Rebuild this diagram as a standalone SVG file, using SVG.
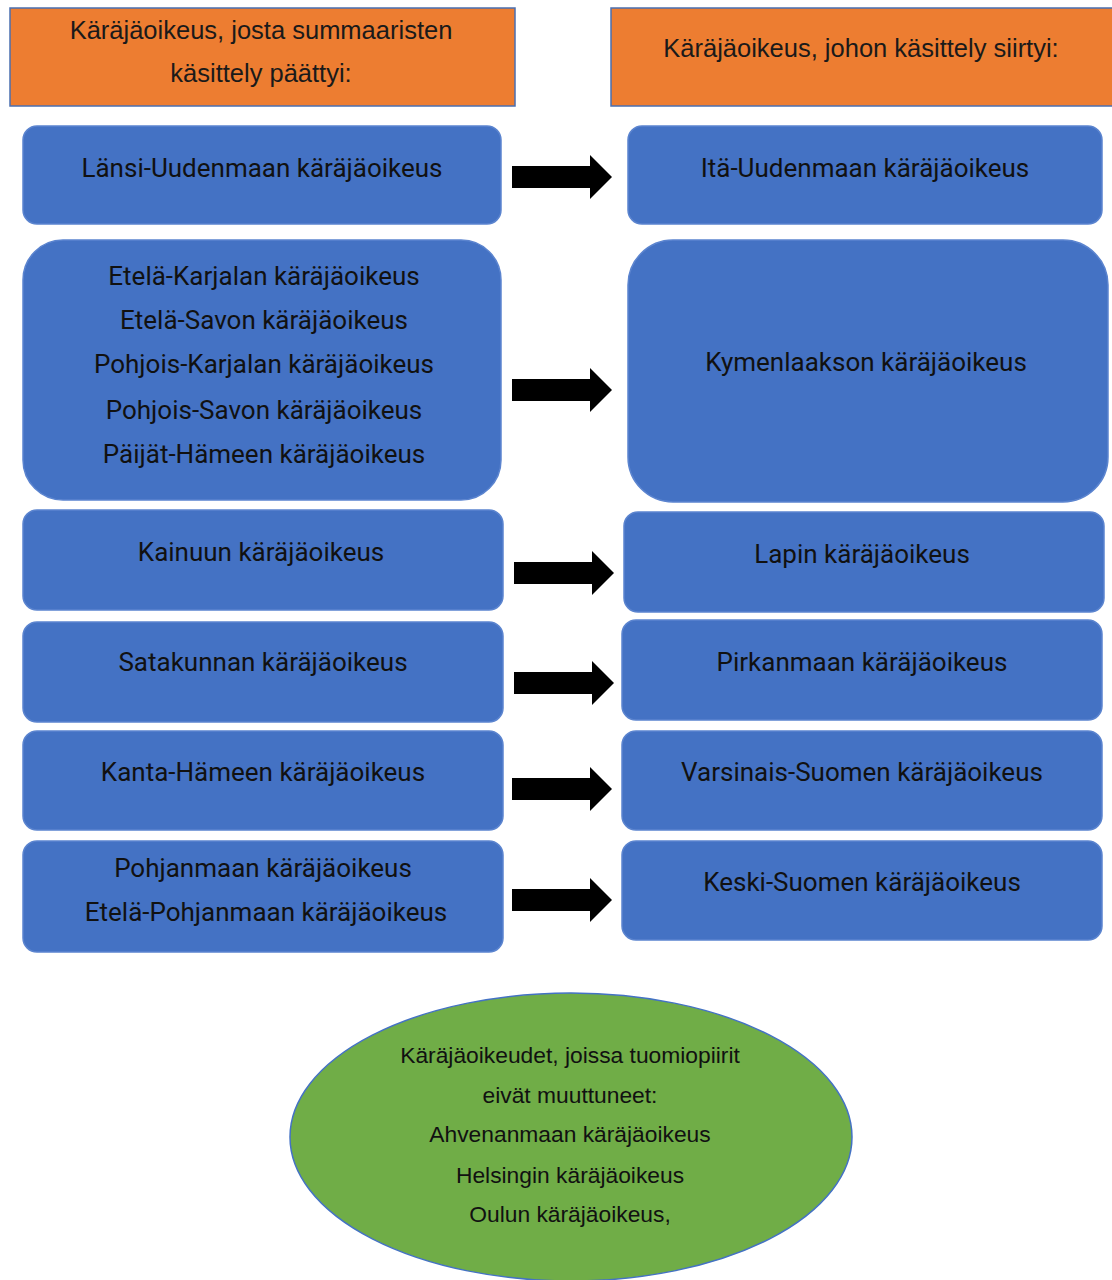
<svg xmlns="http://www.w3.org/2000/svg" width="1112" height="1280" viewBox="0 0 1112 1280">
<style>
.hdr{fill:#ED7D31;stroke:#4A6FB0;stroke-width:1.5}
.box{fill:#4472C4;stroke:#5B84CF;stroke-width:1.5}
.ell{fill:#70AD47;stroke:#4472C4;stroke-width:1.5}
.ht{font-family:"Liberation Sans",Arial,sans-serif;font-size:25.5px;fill:#1a1a1a;text-anchor:middle}
.bt{font-family:Roboto,"Liberation Sans",sans-serif;font-size:26px;fill:#111;text-anchor:middle}
.et{font-family:"Liberation Sans",Arial,sans-serif;font-size:22.8px;fill:#111;text-anchor:middle}
.arr{fill:#000}
</style>
<defs>
<path id="arrow" d="M0,-11 H78 V-22 L100,0 L78,22 V11 H0 Z"/>
</defs>
<rect width="1112" height="1280" fill="#fff"/>
<g id="header-left"><rect class="hdr" x="10" y="8" width="505" height="98"/>
<text class="ht" x="261" y="39">Käräjäoikeus, josta summaaristen</text>
<text class="ht" x="261" y="82">käsittely päättyi:</text></g>
<g id="header-right"><rect class="hdr" x="611" y="8" width="510" height="98"/>
<text class="ht" x="861" y="57">Käräjäoikeus, johon käsittely siirtyi:</text></g>

<g id="l1"><rect class="box" x="23" y="126" width="478" height="98" rx="14"/>
<text class="bt" x="262" y="177">Länsi-Uudenmaan käräjäoikeus</text></g>
<g id="r1"><rect class="box" x="628" y="126" width="474" height="98" rx="14"/>
<text class="bt" x="865" y="177">Itä-Uudenmaan käräjäoikeus</text></g>

<g id="l2"><rect class="box" x="23" y="240" width="478" height="260" rx="40"/>
<text class="bt" x="264" y="285">Etelä-Karjalan käräjäoikeus</text>
<text class="bt" x="264" y="329">Etelä-Savon käräjäoikeus</text>
<text class="bt" x="264" y="373">Pohjois-Karjalan käräjäoikeus</text>
<text class="bt" x="264" y="419">Pohjois-Savon käräjäoikeus</text>
<text class="bt" x="264" y="463">Päijät-Hämeen käräjäoikeus</text></g>
<g id="r2"><rect class="box" x="628" y="240" width="480" height="262" rx="45"/>
<text class="bt" x="866" y="371">Kymenlaakson käräjäoikeus</text></g>

<g id="l3"><rect class="box" x="23" y="510" width="480" height="100" rx="14"/>
<text class="bt" x="261" y="561">Kainuun käräjäoikeus</text></g>
<g id="r3"><rect class="box" x="624" y="512" width="480" height="100" rx="14"/>
<text class="bt" x="862" y="563">Lapin käräjäoikeus</text></g>

<g id="l4"><rect class="box" x="23" y="622" width="480" height="100" rx="14"/>
<text class="bt" x="263" y="671">Satakunnan käräjäoikeus</text></g>
<g id="r4"><rect class="box" x="622" y="620" width="480" height="100" rx="14"/>
<text class="bt" x="862" y="671">Pirkanmaan käräjäoikeus</text></g>

<g id="l5"><rect class="box" x="23" y="731" width="480" height="99" rx="14"/>
<text class="bt" x="263" y="781">Kanta-Hämeen käräjäoikeus</text></g>
<g id="r5"><rect class="box" x="622" y="731" width="480" height="99" rx="14"/>
<text class="bt" x="862" y="781">Varsinais-Suomen käräjäoikeus</text></g>

<g id="l6"><rect class="box" x="23" y="841" width="480" height="111" rx="14"/>
<text class="bt" x="263" y="877">Pohjanmaan käräjäoikeus</text>
<text class="bt" x="266" y="921">Etelä-Pohjanmaan käräjäoikeus</text></g>
<g id="r6"><rect class="box" x="622" y="841" width="480" height="99" rx="14"/>
<text class="bt" x="862" y="891">Keski-Suomen käräjäoikeus</text></g>

<g id="unchanged"><ellipse class="ell" cx="571" cy="1137" rx="281" ry="144"/>
<text class="et" x="570" y="1063">Käräjäoikeudet, joissa tuomiopiirit</text>
<text class="et" x="570" y="1103">eivät muuttuneet:</text>
<text class="et" x="570" y="1142">Ahvenanmaan käräjäoikeus</text>
<text class="et" x="570" y="1183">Helsingin käräjäoikeus</text>
<text class="et" x="570" y="1222">Oulun käräjäoikeus,</text></g>

<g id="connectors">
<use href="#arrow" class="arr" x="512" y="177"/>
<use href="#arrow" class="arr" x="512" y="390"/>
<use href="#arrow" class="arr" x="514" y="573"/>
<use href="#arrow" class="arr" x="514" y="683"/>
<use href="#arrow" class="arr" x="512" y="789"/>
<use href="#arrow" class="arr" x="512" y="900"/>
</g>
</svg>
